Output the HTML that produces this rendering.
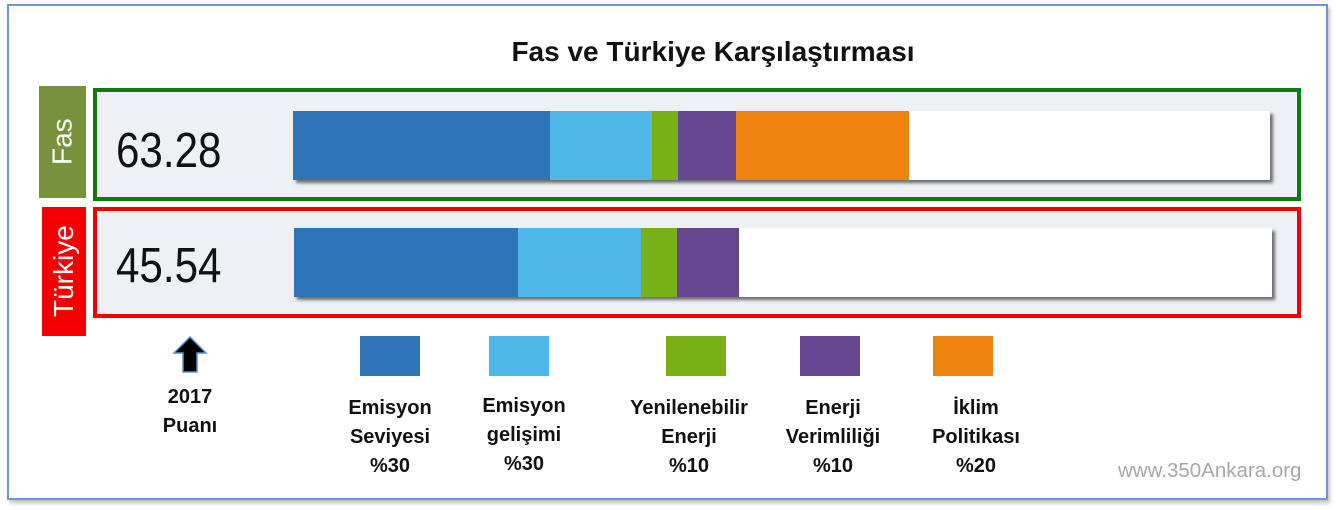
<!DOCTYPE html>
<html><head><meta charset="utf-8"><style>
body{margin:0;width:1336px;height:510px;background:#fff;position:relative;overflow:hidden;font-family:"Liberation Sans",sans-serif}
.a{position:absolute}
.frame{left:7px;top:4px;width:1317px;height:492px;border:2px solid #6b98d2;box-shadow:2px 3px 4px rgba(0,0,0,.25)}
.box{left:93px;width:1200px;background:#edf0f4;border:4px solid}
.seg{position:absolute;top:0;height:100%}
.bar{position:absolute;box-shadow:3px 3px 3px rgba(0,0,0,.55)}
.num{font-size:49px;color:#111;transform:scaleX(.86);transform-origin:left}
.lab{color:#fff;font-size:28px;writing-mode:vertical-rl;transform:rotate(180deg);display:flex;align-items:center;justify-content:center}
.lg{top:336px;width:60px;height:40px}
.t{font-weight:bold;font-size:20px;line-height:29px;text-align:center;color:#111;width:160px}
</style></head><body>
<div class="a frame"></div>
<div class="a" style="left:0;top:36px;width:1426px;text-align:center;font-weight:bold;font-size:28px;color:#111">Fas ve Türkiye Karşılaştırması</div>

<div class="a lab" style="left:39px;top:86px;width:47px;height:112px;background:#77913d">Fas</div>
<div class="a lab" style="left:42px;top:207px;width:44px;height:129px;background:#f50000">Türkiye</div>

<div class="a box" style="top:88px;height:105px;border-color:#0a7d0a"></div>
<div class="a box" style="top:207px;height:103px;border-color:#f20000"></div>

<div class="a num" style="left:116px;top:123px">63.28</div>
<div class="a num" style="left:116px;top:238px">45.54</div>

<div class="bar" style="left:293px;top:111px;width:977px;height:69px;background:#fff">
<div class="seg" style="left:0;width:257px;background:#2e75b8"></div>
<div class="seg" style="left:257px;width:102px;background:#4fb8e8"></div>
<div class="seg" style="left:359px;width:26px;background:#79b015"></div>
<div class="seg" style="left:385px;width:58px;background:#66468f"></div>
<div class="seg" style="left:443px;width:173px;background:#ee840f"></div>
</div>
<div class="bar" style="left:294px;top:228px;width:978px;height:69px;background:#fff">
<div class="seg" style="left:0;width:224px;background:#2e75b8"></div>
<div class="seg" style="left:224px;width:123px;background:#4fb8e8"></div>
<div class="seg" style="left:347px;width:36px;background:#79b015"></div>
<div class="seg" style="left:383px;width:62px;background:#66468f"></div>
</div>

<svg class="a" style="left:171px;top:335px" width="40" height="40"><path d="M19 2 L35 18 L26 18 L26 37 L12 37 L12 18 L3 18 Z" fill="#000" stroke="#5a8fd0" stroke-width="1.5"/></svg>
<div class="a t" style="left:110px;top:383px">2017<br>Puanı</div>

<div class="a lg" style="left:360px;background:#2e75b8"></div>
<div class="a lg" style="left:489px;background:#4fb8e8"></div>
<div class="a lg" style="left:666px;background:#79b015"></div>
<div class="a lg" style="left:800px;background:#66468f"></div>
<div class="a lg" style="left:933px;background:#ee840f"></div>

<div class="a t" style="left:310px;top:394px">Emisyon<br>Seviyesi<br>%30</div>
<div class="a t" style="left:444px;top:392px">Emisyon<br>gelişimi<br>%30</div>
<div class="a t" style="left:609px;top:394px">Yenilenebilir<br>Enerji<br>%10</div>
<div class="a t" style="left:753px;top:394px">Enerji<br>Verimliliği<br>%10</div>
<div class="a t" style="left:896px;top:394px">İklim<br>Politikası<br>%20</div>

<div class="a" style="left:1118px;top:459px;font-size:20.5px;color:#a8a8a8">www.350Ankara.org</div>
</body></html>
